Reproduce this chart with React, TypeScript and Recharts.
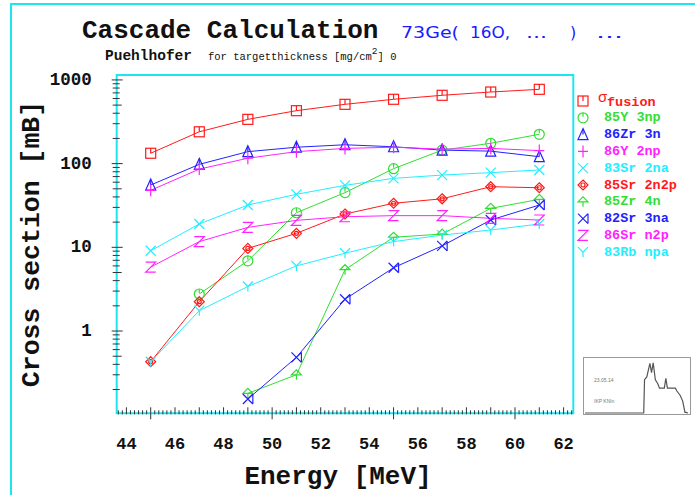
import React from "react";
import { LineChart, Line, XAxis, YAxis, ReferenceArea, Legend } from "recharts";

// beam energies [MeV]
const energies = [45, 47, 49, 51, 53, 55, 57, 59, 61];

// cross sections [mB], null = not produced
const fusion = [133, 240, 338, 429, 511, 587, 655, 717, 772];
const y85_3np = [null, 2.77, 6.9, 25.9, 45, 87, 145, 175, 224];
const zr86_3n = [55.5, 98, 139, 157, 168, 159, 145, 141, 121];
const y86_2np = [48, 86, 116, 139, 152, 157, 149, 152, 143];
const sr83_2na = [9.1, 19, 32, 43, 55, 66.7, 73, 78, 84];
const sr85_2n2p = [0.43, 2.24, 9.7, 14.7, 25, 33.6, 38, 53, 51.5];
const zr85_4n = [null, null, 0.18, 0.3, 5.4, 13.2, 14.4, 29.2, 37.4];
const sr82_3na = [null, null, 0.154, 0.485, 2.4, 5.7, 10.4, 21.2, 32];
const sr86_n2p = [5.8, 11.7, 17.3, 21, 23.2, 23.9, 23.9, 22.2, 21.2];
const rb83_npa = [0.43, 1.75, 3.4, 6.0, 8.5, 11.7, 14.0, 16.1, 19];

const xLabels = [44, 46, 48, 50, 52, 54, 56, 58, 60, 62];
const yLabels = [1, 10, 100, 1000];

// little overview spectrum in the corner box
const specX = [0, 57, 57.8, 60, 63, 64.6, 66.2, 68.3, 70.8, 72.3, 77, 78.5, 80, 87.7, 89.2, 92.3, 94.8, 97, 100];
const specY = [0, 0, 62.8, 68, 93.6, 76, 94.7, 62.8, 54.8, 46.8, 46.8, 65.4, 46.8, 46.8, 41.5, 33.5, 22.9, 1.6, 0];

const X_DOMAIN: [number, number] = [43.6, 62.4];
const Y_DOMAIN: [number, number] = [0.104, 1145];

const MONO = "'Liberation Mono', 'DejaVu Sans Mono', monospace";
const CYAN = "#1ee6f0";

const series = [
  { key: "fusion", name: "fusion", color: "#ff1a1a", shape: "square", values: fusion },
  { key: "y85", name: "85Y 3np", color: "#33dd33", shape: "circle", values: y85_3np },
  { key: "zr86", name: "86Zr 3n", color: "#2222ff", shape: "triangle", values: zr86_3n },
  { key: "y86", name: "86Y 2np", color: "#ff22ff", shape: "plus", values: y86_2np },
  { key: "sr83", name: "83Sr 2na", color: "#22eeff", shape: "cross", values: sr83_2na },
  { key: "sr85", name: "85Sr 2n2p", color: "#ff1a1a", shape: "diamond", values: sr85_2n2p },
  { key: "zr85", name: "85Zr 4n", color: "#33dd33", shape: "arrow", values: zr85_4n },
  { key: "sr82", name: "82Sr 3na", color: "#2222ff", shape: "bowtie", values: sr82_3na },
  { key: "sr86", name: "86Sr n2p", color: "#ff22ff", shape: "z", values: sr86_n2p },
  { key: "rb83", name: "83Rb npa", color: "#22eeff", shape: "y", values: rb83_npa },
];

const data = energies.map((e, i) => {
  const row: Record<string, number | null> = { e };
  series.forEach((s) => (row[s.key] = s.values[i]));
  return row;
});

const specData = specX.map((x, i) => ({ x, y: specY[i] }));

const yTicks: number[] = [];
[0.1, ...yLabels.slice(0, 3)].forEach((d) => {
  for (let k = 1; k <= 9; k++) {
    const v = +(d * k).toPrecision(3);
    if (v >= Y_DOMAIN[0] && v <= Y_DOMAIN[1]) yTicks.push(v);
  }
});
yTicks.push(1000);

const xMinorTicks: number[] = [];
for (let k = Math.ceil(X_DOMAIN[0] * 6); k <= Math.floor(X_DOMAIN[1] * 6); k++) xMinorTicks.push(k / 6);

function Marker({ shape, cx, cy, color }: { shape: string; cx: number; cy: number; color: string }) {
  const s = 5;
  const p = { fill: "none", stroke: color, strokeWidth: 1.2 };
  switch (shape) {
    case "square":
      return (
        <g {...p}>
          <rect x={cx - s} y={cy - s} width={2 * s} height={2 * s} />
          <path d={`M${cx},${cy - s}V${cy}`} />
        </g>
      );
    case "circle":
      return (
        <g {...p}>
          <circle cx={cx} cy={cy} r={s} />
          <path d={`M${cx},${cy - s}V${cy - 1}`} />
        </g>
      );
    case "triangle":
      return (
        <g {...p}>
          <path d={`M${cx},${cy - s - 1}L${cx + s},${cy + s}L${cx - s},${cy + s}Z`} />
          <path d={`M${cx},${cy - s}V${cy}`} />
        </g>
      );
    case "plus":
      return <path {...p} d={`M${cx - s},${cy}H${cx + s}M${cx},${cy - s - 1}V${cy + s + 1}`} />;
    case "cross":
      return <path {...p} d={`M${cx - s},${cy - s}L${cx + s},${cy + s}M${cx + s},${cy - s}L${cx - s},${cy + s}`} />;
    case "diamond":
      return (
        <g {...p}>
          <path d={`M${cx},${cy - s}L${cx + s},${cy}L${cx},${cy + s}L${cx - s},${cy}Z`} />
          <circle cx={cx} cy={cy} r={2} />
        </g>
      );
    case "arrow":
      return <path {...p} d={`M${cx - s},${cy}L${cx},${cy - s}L${cx + s},${cy}ZM${cx},${cy}V${cy + s}`} />;
    case "bowtie":
      return (
        <path
          {...p}
          d={`M${cx - s},${cy - s}L${cx + s},${cy + s}M${cx + s},${cy - s}L${cx - s},${cy + s}M${cx + s},${cy - s}V${cy + s}`}
        />
      );
    case "z":
      return <path {...p} d={`M${cx - s},${cy - s}H${cx + s}L${cx - s},${cy + s}H${cx + s}`} />;
    case "y":
      return <path {...p} d={`M${cx - s},${cy - s}L${cx},${cy}L${cx + s},${cy - s}M${cx},${cy}V${cy + s}`} />;
  }
  return null;
}

const YTick = (props: any) => {
  const { x, y, payload } = props;
  const v = payload.value;
  const lg = Math.log10(v);
  const decade = Math.abs(lg - Math.round(lg)) < 1e-6;
  const mant = v / Math.pow(10, Math.floor(lg + 1e-9));
  const five = Math.abs(mant - 5) < 1e-6;
  const l = decade ? 5 : 4;
  const r = decade ? 6 : five ? 5 : 3;
  return (
    <g>
      <line x1={x - l} x2={x + r} y1={y} y2={y} stroke="#333" strokeWidth={1} />
      {decade && (
        <text x={x - 25} y={y} textAnchor="end" dominantBaseline="central" fontFamily={MONO} fontSize={17.5} fontWeight="bold" fill="#111">
          {v}
        </text>
      )}
    </g>
  );
};

const XMinorTick = (props: any) => {
  const { x, y, payload } = props;
  const k = Math.round(payload.value * 6);
  let y1 = y - 4;
  let y2 = y;
  if (k % 30 === 0) {
    y1 = y - 7;
    y2 = y + 5;
  } else if (k % 6 === 0) {
    y1 = y - 7;
  }
  return <line x1={x} x2={x} y1={y1} y2={y2} stroke="#333" strokeWidth={1} />;
};

const XLabelTick = (props: any) => {
  const { x, y, payload } = props;
  return (
    <text x={x} y={y + 35.5} textAnchor="middle" fontFamily={MONO} fontSize={17} fontWeight="bold" fill="#111">
      {payload.value}
    </text>
  );
};

const LegendBox = () => (
  <svg width={120} height={175}>
    {series.map((s, i) => {
      const cy = 10 + i * 16.8;
      return (
        <g key={s.key}>
          <Marker shape={s.shape} cx={9} cy={cy} color={s.color} />
          {s.key === "fusion" ? (
            <text x={24} y={cy + 3} fill={s.color} fontFamily={MONO}>
              <tspan fontSize={15} dy={-2}>σ</tspan>
              <tspan fontSize={13.5} fontWeight="bold" dy={4}>fusion</tspan>
            </text>
          ) : (
            <text x={30} y={cy} dominantBaseline="central" fill={s.color} fontFamily={MONO} fontSize={13.5} fontWeight="bold">
              {s.name}
            </text>
          )}
        </g>
      );
    })}
  </svg>
);

export default function App() {
  return (
    <div style={{ position: "absolute", left: 0, top: 0, width: 695, height: 495, background: "#fff", overflow: "hidden" }}>
      <div
        style={{
          position: "absolute",
          left: 10,
          top: 3,
          width: 720,
          height: 520,
          borderLeft: `2px solid ${CYAN}`,
          borderTop: `2px solid ${CYAN}`,
        }}
      />
      <LineChart width={695} height={495} data={data} margin={{ top: 75, right: 121.7, bottom: 79.7, left: 115.7 }}>
        <XAxis
          xAxisId="minor"
          dataKey="e"
          type="number"
          domain={X_DOMAIN}
          allowDataOverflow
          ticks={xMinorTicks}
          interval={0}
          tick={<XMinorTick />}
          tickLine={false}
          axisLine={false}
          tickSize={0}
          tickMargin={0}
          height={1}
        />
        <XAxis
          xAxisId="lab"
          dataKey="e"
          type="number"
          domain={X_DOMAIN}
          allowDataOverflow
          ticks={xLabels}
          interval={0}
          tick={<XLabelTick />}
          tickLine={false}
          axisLine={false}
          tickSize={0}
          tickMargin={0}
          height={1}
        />
        <YAxis
          type="number"
          scale="log"
          domain={Y_DOMAIN}
          allowDataOverflow
          ticks={yTicks}
          interval={0}
          tick={<YTick />}
          tickLine={false}
          axisLine={false}
          tickSize={0}
          tickMargin={0}
          width={1}
        />
        {series.map((s) => (
          <Line
            key={s.key}
            xAxisId="minor"
            dataKey={s.key}
            type="linear"
            stroke={s.color}
            strokeWidth={1}
            isAnimationActive={false}
            dot={(p: any) =>
              p.value == null || p.cx == null ? (
                <g key={p.key} />
              ) : (
                <Marker key={p.key} shape={s.shape} cx={p.cx} cy={p.cy} color={s.color} />
              )
            }
          />
        ))}
        <ReferenceArea
          xAxisId="minor"
          x1={X_DOMAIN[0]}
          x2={X_DOMAIN[1]}
          y1={Y_DOMAIN[0]}
          y2={Y_DOMAIN[1]}
          fill="none"
          stroke={CYAN}
          strokeWidth={2}
          ifOverflow="visible"
        />
        <Legend
          layout="horizontal"
          verticalAlign="middle"
          align="center"
          content={() => <LegendBox />}
          wrapperStyle={{ position: "absolute", left: 574, top: 91, width: 120 }}
        />
      </LineChart>

      <svg width={695} height={495} style={{ position: "absolute", left: 0, top: 0, pointerEvents: "none" }}>
        <text x={82} y={38} fontFamily={MONO} fontSize={26} fontWeight="bold" fill="#111">
          Cascade Calculation
        </text>
        <g fontFamily="'DejaVu Sans', sans-serif" fontSize={16} fill="#1a1aff">
          <text x={401} y={38} textLength={58} lengthAdjust="spacingAndGlyphs">73Ge(</text>
          <text x={470} y={38} textLength={40} lengthAdjust="spacingAndGlyphs">16O,</text>
          <text x={526} y={38} textLength={21} lengthAdjust="spacingAndGlyphs">...</text>
          <text x={570} y={38}>)</text>
          <text x={596} y={38} textLength={27} lengthAdjust="spacingAndGlyphs">...</text>
        </g>
        <text x={105} y={60} fontFamily={MONO} fontSize={14.5} fontWeight="bold" fill="#111">
          Puehlhofer
        </text>
        <text x={208} y={60} fontFamily={MONO} fontSize={10.5} fill="#111">
          for targetthickness [mg/cm
          <tspan dy={-6} fontSize={9.5}>2</tspan>
          <tspan dy={6}>] 0</tspan>
        </text>
        <text
          transform="translate(39,244) rotate(-90)"
          textAnchor="middle"
          fontFamily={MONO}
          fontSize={26.5}
          fontWeight="bold"
          fill="#111"
        >
          Cross section [mB]
        </text>
        <text x={338} y={484} textAnchor="middle" fontFamily={MONO} fontSize={26} fontWeight="bold" fill="#111">
          Energy [MeV]
        </text>
      </svg>

      <div style={{ position: "absolute", left: 583, top: 357, width: 106, height: 56, border: "1px solid #999", background: "#fff" }}>
        <LineChart width={106} height={56} data={specData} margin={{ top: 2, right: 2, bottom: 1, left: 1 }}>
          <XAxis dataKey="x" type="number" domain={[0, 100]} hide />
          <YAxis type="number" domain={[0, 100]} hide />
          <Line dataKey="y" type="linear" stroke="#555" strokeWidth={1.2} dot={false} isAnimationActive={false} />
        </LineChart>
        <div style={{ position: "absolute", left: 10, top: 19, fontFamily: "sans-serif", fontSize: 5, color: "#777" }}>23.05.14</div>
        <div style={{ position: "absolute", left: 10, top: 40, fontFamily: "sans-serif", fontSize: 5, color: "#777" }}>IKP KNln</div>
      </div>
    </div>
  );
}
